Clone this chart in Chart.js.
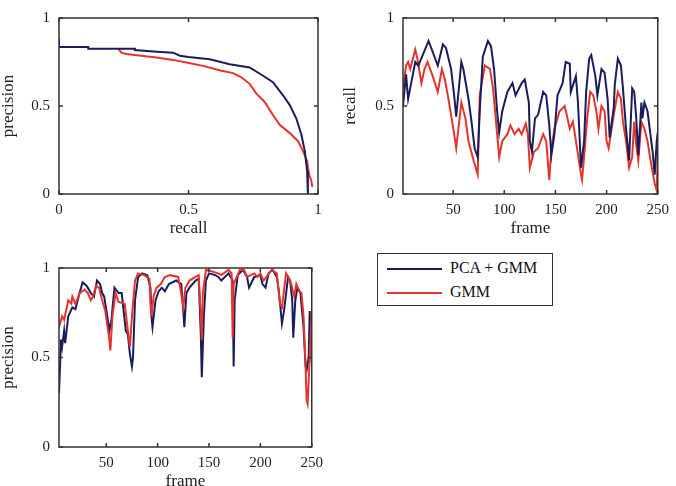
<!DOCTYPE html>
<html>
<head>
<meta charset="utf-8">
<script src="https://cdn.jsdelivr.net/npm/chart.js@4.4.1/dist/chart.umd.min.js"></script>
<style>
  body { margin: 0; background: #fff; width: 676px; height: 486px; position: relative; overflow: hidden; font-family: "Liberation Serif", serif; }
  canvas { position: absolute; }
  #legend { position: absolute; left: 377px; top: 253px; width: 176px; height: 53px; border: 1.5px solid #333; box-sizing: border-box; }
  .item { position: absolute; left: 9px; height: 20px; font-size: 16px; color: #111; }
  .item span { position: absolute; top: 10px; left: 0; width: 55px; height: 2px; }
  .item b { position: absolute; left: 63px; top: 0; font-weight: normal; white-space: nowrap; line-height: 20px; }
</style>
</head>
<body>
<canvas id="pr" width="330" height="245" style="left:0;top:0"></canvas>
<canvas id="rec" width="336" height="245" style="left:340px;top:0"></canvas>
<canvas id="prec" width="330" height="241" style="left:0;top:250px"></canvas>
<div id="legend">
  <div class="item" style="top:4px"><span style="background:#1a1d5c"></span><b>PCA + GMM</b></div>
  <div class="item" style="top:28px"><span style="background:#e5342c"></span><b>GMM</b></div>
</div>
<script>
const seriesNames = ["PCA + GMM", "GMM"];
const blue = "#1a1d5c";
const red = "#e5342c";

// precision / recall curves (top left)
const prRecallPca = [0, 0, 0.113, 0.113, 0.293, 0.293, 0.364, 0.44, 0.467, 0.5, 0.582, 0.659, 0.736, 0.788, 0.826, 0.865, 0.891, 0.916, 0.936, 0.949, 0.958, 0.961];
const prPrecisionPca = [0.88, 0.835, 0.835, 0.825, 0.825, 0.818, 0.81, 0.803, 0.786, 0.778, 0.765, 0.737, 0.719, 0.672, 0.635, 0.561, 0.505, 0.43, 0.337, 0.244, 0.132, 0];
const prRecallGmm = [0.229, 0.241, 0.26, 0.3, 0.376, 0.44, 0.492, 0.556, 0.627, 0.672, 0.704, 0.736, 0.762, 0.794, 0.826, 0.852, 0.891, 0.923, 0.942, 0.958, 0.965, 0.974, 0.978];
const prPrecisionGmm = [0.825, 0.803, 0.795, 0.788, 0.775, 0.762, 0.747, 0.728, 0.70, 0.687, 0.663, 0.626, 0.57, 0.523, 0.449, 0.393, 0.346, 0.30, 0.244, 0.188, 0.114, 0.077, 0.04];

// recall per frame (top right)
const recFramesPca = [1, 4, 6, 9, 13, 16, 26, 35, 40, 43, 48, 51, 53, 58, 60, 65, 68, 71, 74, 76, 79, 84, 87, 90, 93, 95, 98, 103, 108, 111, 117, 120, 124, 125, 127, 130, 133, 138, 141, 144, 146, 149, 152, 157, 160, 164, 165, 170, 172, 175, 178, 180, 183, 185, 189, 191, 195, 198, 201, 203, 207, 208, 211, 214, 216, 219, 222, 225, 227, 229, 231, 234, 235, 237, 240, 245, 247, 249, 250];
const recallPca = [0.50, 0.68, 0.54, 0.63, 0.75, 0.73, 0.87, 0.73, 0.85, 0.83, 0.71, 0.56, 0.44, 0.75, 0.71, 0.54, 0.41, 0.26, 0.21, 0.47, 0.78, 0.87, 0.84, 0.71, 0.47, 0.35, 0.47, 0.58, 0.63, 0.56, 0.63, 0.65, 0.52, 0.30, 0.24, 0.43, 0.45, 0.58, 0.56, 0.39, 0.22, 0.34, 0.56, 0.63, 0.75, 0.74, 0.58, 0.67, 0.52, 0.15, 0.30, 0.58, 0.77, 0.79, 0.67, 0.56, 0.71, 0.69, 0.54, 0.32, 0.49, 0.62, 0.77, 0.73, 0.60, 0.37, 0.19, 0.60, 0.58, 0.43, 0.22, 0.52, 0.43, 0.52, 0.47, 0.24, 0.11, 0.30, 0.35];
const recFramesGmm = [1, 4, 6, 8, 13, 15, 19, 22, 25, 30, 35, 39, 42, 46, 51, 53, 58, 62, 65, 70, 74, 76, 81, 86, 89, 93, 95, 98, 103, 106, 110, 114, 117, 121, 123, 125, 129, 133, 138, 141, 144, 146, 149, 154, 159, 161, 164, 167, 169, 175, 176, 178, 181, 184, 187, 190, 192, 195, 198, 200, 202, 207, 211, 214, 216, 219, 222, 225, 227, 229, 231, 234, 237, 240, 243, 247, 249, 250];
const recallGmm = [0.60, 0.73, 0.75, 0.71, 0.82, 0.77, 0.63, 0.71, 0.75, 0.67, 0.58, 0.71, 0.65, 0.52, 0.34, 0.26, 0.52, 0.43, 0.30, 0.19, 0.11, 0.56, 0.73, 0.71, 0.60, 0.34, 0.21, 0.30, 0.34, 0.39, 0.34, 0.37, 0.34, 0.40, 0.34, 0.15, 0.24, 0.26, 0.34, 0.30, 0.08, 0.26, 0.37, 0.47, 0.50, 0.45, 0.37, 0.41, 0.34, 0.11, 0.08, 0.21, 0.43, 0.58, 0.56, 0.47, 0.37, 0.50, 0.47, 0.30, 0.26, 0.45, 0.58, 0.54, 0.41, 0.30, 0.15, 0.21, 0.41, 0.28, 0.19, 0.41, 0.37, 0.30, 0.19, 0.06, 0.02, 0.24];

// precision per frame (bottom left)
const precFramesPca = [4, 6, 7, 9, 10, 13, 17, 20, 24, 27, 31, 35, 38, 41, 44, 46, 48, 51, 53, 55, 58, 62, 65, 69, 71, 73, 75, 76, 78, 81, 85, 90, 93, 94, 95, 98, 101, 104, 107, 111, 118, 123, 125, 126, 128, 131, 137, 140, 142, 143, 145, 147, 150, 156, 159, 162, 169, 173, 174, 175, 178, 183, 187, 189, 194, 200, 202, 205, 208, 212, 216, 218, 221, 223, 227, 229, 231, 232, 234, 236, 239, 242, 244, 245, 247, 248, 250];
const precisionPca = [0.30, 0.60, 0.56, 0.65, 0.58, 0.73, 0.78, 0.77, 0.86, 0.92, 0.90, 0.86, 0.84, 0.93, 0.91, 0.86, 0.84, 0.73, 0.65, 0.71, 0.89, 0.86, 0.86, 0.65, 0.63, 0.52, 0.45, 0.50, 0.82, 0.95, 0.97, 0.96, 0.89, 0.73, 0.67, 0.82, 0.87, 0.89, 0.87, 0.91, 0.93, 0.91, 0.76, 0.67, 0.86, 0.89, 0.93, 0.94, 0.63, 0.39, 0.73, 0.93, 0.97, 0.96, 0.95, 0.93, 0.97, 0.93, 0.45, 0.82, 0.96, 0.99, 0.95, 0.89, 0.95, 0.96, 0.91, 0.89, 0.97, 0.99, 0.95, 0.87, 0.69, 0.76, 0.95, 0.93, 0.82, 0.61, 0.82, 0.89, 0.86, 0.67, 0.45, 0.43, 0.50, 0.76, 0.47];
const precFramesGmm = [4, 6, 7, 9, 13, 16, 17, 20, 24, 29, 32, 35, 37, 40, 43, 46, 49, 53, 54, 56, 59, 62, 68, 71, 73, 75, 78, 81, 87, 92, 93, 94, 96, 99, 103, 107, 112, 120, 122, 125, 127, 131, 137, 140, 142, 143, 144, 147, 153, 159, 162, 169, 172, 173, 174, 180, 184, 187, 194, 197, 200, 203, 206, 211, 216, 219, 221, 225, 227, 230, 233, 235, 238, 240, 242, 244, 245, 246, 248, 250];
const precisionGmm = [0.67, 0.71, 0.73, 0.71, 0.82, 0.80, 0.84, 0.80, 0.86, 0.88, 0.86, 0.82, 0.84, 0.90, 0.89, 0.82, 0.76, 0.60, 0.54, 0.73, 0.86, 0.81, 0.80, 0.65, 0.56, 0.73, 0.93, 0.97, 0.96, 0.94, 0.80, 0.73, 0.84, 0.89, 0.91, 0.95, 0.96, 0.95, 0.89, 0.78, 0.89, 0.93, 0.95, 0.96, 0.73, 0.60, 0.86, 0.99, 0.98, 0.97, 0.96, 0.99, 0.97, 0.61, 0.91, 0.99, 0.99, 0.95, 0.97, 0.95, 0.97, 0.93, 0.95, 0.99, 0.97, 0.80, 0.78, 0.97, 0.95, 0.91, 0.84, 0.91, 0.87, 0.86, 0.73, 0.45, 0.26, 0.24, 0.50, 0.76];

const unitTicks = [0, 0.5, 1];
const frameTicks = [50, 100, 150, 200, 250];

// box round the plot area with small inward ticks, like the original figure
const boxFrame = {
  id: "boxFrame",
  afterDatasetsDraw(chart) {
    const { ctx, chartArea: a, scales: { x, y } } = chart;
    ctx.save();
    ctx.strokeStyle = "#333";
    ctx.lineWidth = 1.5;
    ctx.strokeRect(a.left, a.top, a.right - a.left, a.bottom - a.top);
    ctx.beginPath();
    x.ticks.forEach(t => {
      const px = x.getPixelForValue(t.value);
      ctx.moveTo(px, a.bottom); ctx.lineTo(px, a.bottom - 4);
      ctx.moveTo(px, a.top); ctx.lineTo(px, a.top + 4);
    });
    y.ticks.forEach(t => {
      const py = y.getPixelForValue(t.value);
      ctx.moveTo(a.left, py); ctx.lineTo(a.left + 4, py);
      ctx.moveTo(a.right, py); ctx.lineTo(a.right - 4, py);
    });
    ctx.stroke();
    ctx.restore();
  }
};

const pts = (xs, ys) => xs.map((v, i) => ({ x: v, y: ys[i] }));

function line(label, color, data, order) {
  return { label, data, borderColor: color, borderWidth: 2, pointRadius: 0, tension: 0, order };
}

function makeChart(id, datasets, o) {
  const tickFont = { family: "Liberation Serif", size: 15 };
  const titleFont = { family: "Liberation Serif", size: 17, lineHeight: 1 };
  const plain = v => String(v);
  return new Chart(document.getElementById(id), {
    type: "line",
    data: { datasets },
    options: {
      responsive: false,
      animation: false,
      layout: { padding: o.pad },
      plugins: { legend: { display: false }, tooltip: { enabled: false } },
      scales: {
        x: {
          type: "linear", min: o.xMin, max: o.xMax,
          grid: { display: false, drawTicks: false },
          border: { display: false },
          afterBuildTicks: s => { s.ticks = o.xTicks.map(v => ({ value: v })); },
          afterFit: s => { s.height = o.xH; },
          ticks: { font: tickFont, color: "#222", padding: 7, maxRotation: 0, callback: plain },
          title: { display: true, text: o.xTitle, font: titleFont, color: "#222", padding: { top: 0, bottom: o.xTitlePad } }
        },
        y: {
          min: 0, max: 1,
          grid: { display: false, drawTicks: false },
          border: { display: false },
          afterBuildTicks: s => { s.ticks = unitTicks.map(v => ({ value: v })); },
          afterFit: s => { s.width = o.yW; },
          ticks: { font: tickFont, color: "#222", padding: 9, callback: plain },
          title: { display: true, text: o.yTitle, font: titleFont, color: "#222", padding: { top: o.yTitlePad, bottom: 0 } }
        }
      }
    },
    plugins: [boxFrame]
  });
}

makeChart("pr", [
  line(seriesNames[0], blue, pts(prRecallPca, prPrecisionPca), 0),
  line(seriesNames[1], red, pts(prRecallGmm, prPrecisionGmm), 1)
], { xMin: 0, xMax: 1, xTicks: unitTicks, xTitle: "recall", yTitle: "precision",
     pad: { left: 0, top: 15, right: 12, bottom: 0 }, xH: 51, yW: 59, xTitlePad: 7.5, yTitlePad: 0.5 });

makeChart("rec", [
  line(seriesNames[0], blue, pts(recFramesPca, recallPca), 0),
  line(seriesNames[1], red, pts(recFramesGmm, recallGmm), 1)
], { xMin: 1, xMax: 250, xTicks: frameTicks, xTitle: "frame", yTitle: "recall",
     pad: { left: 0, top: 15, right: 11, bottom: 0 }, xH: 51, yW: 63, xTitlePad: 7.5, yTitlePad: 2.5 });

makeChart("prec", [
  line(seriesNames[1], red, pts(precFramesGmm, precisionGmm), 0),
  line(seriesNames[0], blue, pts(precFramesPca, precisionPca), 1)
], { xMin: 4, xMax: 250, xTicks: frameTicks, xTitle: "frame", yTitle: "precision",
     pad: { left: 0, top: 17, right: 10, bottom: 0 }, xH: 44, yW: 59, xTitlePad: 0.5, yTitlePad: 0.5 });
</script>
</body>
</html>
